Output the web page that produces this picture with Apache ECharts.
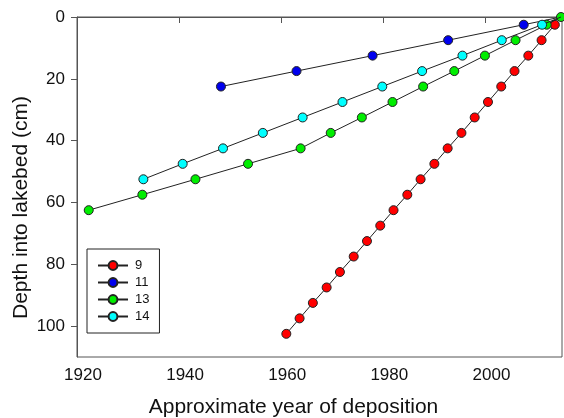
<!DOCTYPE html>
<html>
<head>
<meta charset="utf-8">
<script src="https://cdn.jsdelivr.net/npm/echarts@6/dist/echarts.min.js"></script>
<style>
  html, body { margin: 0; padding: 0; background: #fff; }
  #chart { width: 564px; height: 418px; }
</style>
</head>
<body>
<div id="chart"></div>
<script>
// Core names (legend labels)
const coreNames = ['9', '11', '13', '14'];
const coreColors = ['#ff0000', '#0000ee', '#00ee00', '#00ffff'];

// Estimated deposition year for each 5 cm slice; the first entry of every core is the surface (0 cm) at sampling time
const years9 = [2014.8, 2013.6, 2011.0, 2008.4, 2005.7, 2003.1, 2000.5, 1997.9, 1995.3, 1992.6, 1990.0,
                1987.3, 1984.7, 1982.0, 1979.4, 1976.8, 1974.2, 1971.5, 1968.9, 1966.2, 1963.6, 1961.0];
const depths9 = [0, 2.5, 7.5, 12.5, 17.5, 22.5, 27.5, 32.5, 37.5, 42.5, 47.5,
                 52.5, 57.5, 62.5, 67.5, 72.5, 77.5, 82.5, 87.5, 92.5, 97.5, 102.5];

const years11 = [2014.8, 2007.5, 1992.7, 1977.9, 1963.0, 1948.2];
const depths11 = [0, 2.5, 7.5, 12.5, 17.5, 22.5];

const years13 = [2014.8, 2012.0, 2005.9, 1999.9, 1993.9, 1987.8, 1981.8, 1975.8, 1969.7, 1963.8, 1953.5, 1943.2, 1932.8, 1922.3];
const depths13 = [0, 2.5, 7.5, 12.5, 17.5, 22.5, 27.5, 32.5, 37.5, 42.5, 47.5, 52.5, 57.5, 62.5];

const years14 = [2014.8, 2011.1, 2003.2, 1995.5, 1987.6, 1979.8, 1972.0, 1964.2, 1956.4, 1948.6, 1940.7, 1933.0];
const depths14 = [0, 2.5, 7.5, 12.5, 17.5, 22.5, 27.5, 32.5, 37.5, 42.5, 47.5, 52.5];

// Whether the surface point of each core gets its own marker
const surfaceMarker = [false, false, true, false];

// Axis ticks
const xTicks = [1920, 1940, 1960, 1980, 2000];
const yTicks = [0, 20, 40, 60, 80, 100];

const coreYears = [years9, years11, years13, years14];
const coreDepths = [depths9, depths11, depths13, depths14];

const FONT = '"Liberation Sans", Arial, sans-serif';
const AXIS_COLOR = '#555';

const series = coreNames.map((name, i) => ({
  name: name,
  type: 'line',
  data: coreYears[i].map((yr, j) => {
    const item = { value: [yr, coreDepths[i][j]] };
    if (coreDepths[i][j] === 0 && !surfaceMarker[i]) item.symbol = 'none';
    return item;
  }),
  symbol: 'circle',
  symbolSize: 9,
  clip: false,
  z: 2 + i,
  lineStyle: { color: '#222', width: 1 },
  itemStyle: { color: coreColors[i], borderColor: '#222', borderWidth: 1 },
  emphasis: { disabled: true },
  animation: false
}));

const chart = echarts.init(document.getElementById('chart'), null, { renderer: 'canvas' });
chart.setOption({
  animation: false,
  backgroundColor: '#fff',
  textStyle: { fontFamily: FONT },
  grid: {
    left: 77, right: 2, top: 17, bottom: 61,
    outerBoundsMode: 'none',
    containLabel: false,
    show: true, borderColor: AXIS_COLOR, borderWidth: 1, backgroundColor: 'transparent'
  },
  legend: {
    left: 87, top: 249,
    orient: 'vertical',
    itemWidth: 30, itemHeight: 11, itemGap: 4,
    padding: 10,
    borderColor: '#222', borderWidth: 1,
    textStyle: { fontFamily: FONT, fontSize: 13, color: '#111', padding: [0, 0, 0, 2] },
    data: coreNames
  },
  xAxis: {
    type: 'value',
    min: 1920, max: 2015,
    name: 'Approximate year of deposition',
    nameLocation: 'middle',
    nameGap: 40,
    nameMoveOverlap: false,
    nameTextStyle: { fontFamily: FONT, fontSize: 21, color: '#111', padding: [0, 52, 0, 0] },
    axisLine: { show: true, lineStyle: { color: AXIS_COLOR, width: 1 } },
    axisTick: { show: true, inside: false, length: 6, lineStyle: { color: AXIS_COLOR }, customValues: xTicks },
    axisLabel: { fontFamily: FONT, fontSize: 17, color: '#111', margin: 10, customValues: xTicks,
                 padding: [0, 0, 0, 12], formatter: v => String(v) },
    splitLine: { show: false }
  },
  yAxis: {
    type: 'value',
    inverse: true,
    min: 0, max: 110,
    name: 'Depth into lakebed (cm)',
    nameLocation: 'middle',
    nameGap: 45,
    nameMoveOverlap: false,
    nameTextStyle: { fontFamily: FONT, fontSize: 21, color: '#111', padding: [0, 41, 0, 0] },
    axisLine: { show: true, lineStyle: { color: AXIS_COLOR, width: 1 } },
    axisTick: { show: true, inside: false, length: 6, lineStyle: { color: AXIS_COLOR }, customValues: yTicks },
    axisLabel: { fontFamily: FONT, fontSize: 17, color: '#111', margin: 12, customValues: yTicks,
                 formatter: v => String(v) },
    splitLine: { show: false }
  },
  series: series
});
</script>
</body>
</html>
